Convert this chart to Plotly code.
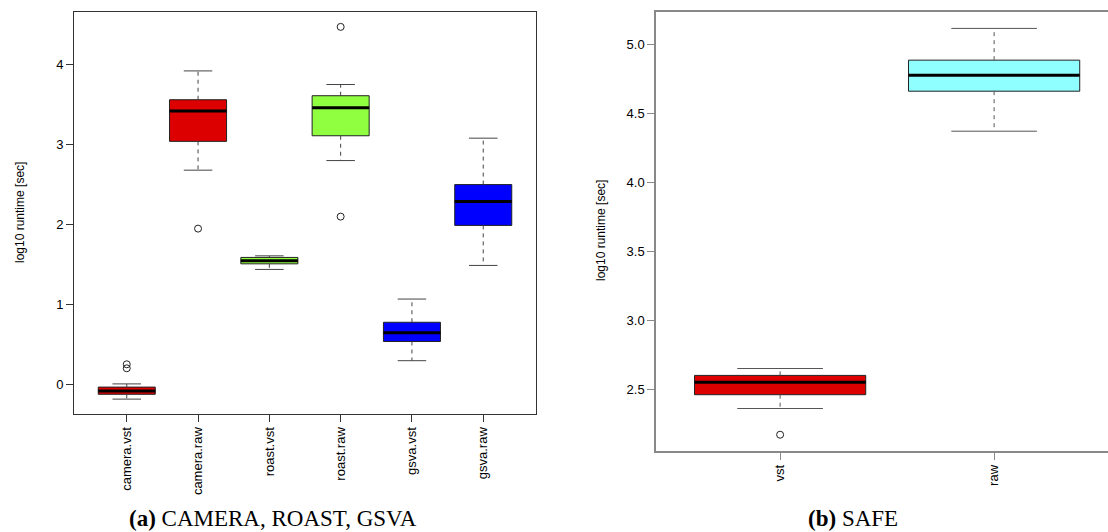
import plotly.graph_objects as go

# ---------------- data ----------------
left_cats = ["camera.vst", "camera.raw", "roast.vst", "roast.raw", "gsva.vst", "gsva.raw"]
left_q1 = [-0.12, 3.04, 1.51, 3.11, 0.54, 1.99]
left_med = [-0.08, 3.42, 1.55, 3.46, 0.65, 2.29]
left_q3 = [-0.03, 3.56, 1.59, 3.61, 0.78, 2.50]
left_lo = [-0.18, 2.68, 1.44, 2.80, 0.30, 1.49]
left_hi = [0.01, 3.92, 1.61, 3.75, 1.07, 3.08]
left_out = [[0.255, 0.205], [1.95], [], [2.10, 4.47], [], []]
left_colors = ["#DD0000", "#DD0000", "#8FFF3F", "#8FFF3F", "#0000FF", "#0000FF"]

right_cats = ["vst", "raw"]
right_q1 = [2.46, 4.66]
right_med = [2.55, 4.775]
right_q3 = [2.60, 4.885]
right_lo = [2.36, 4.37]
right_hi = [2.65, 5.115]
right_out = [[2.17], []]
right_colors = ["#DD0000", "#8FFFFF"]

W, H = 1108, 532
BOX_HALF = 0.4
CAP_HALF = 0.2

fig = go.Figure()


def add_panel(cats, q1, med, q3, lo, hi, outs, colors, xa, ya, whisk_col):
    # box bodies
    for i, c in enumerate(cats):
        p = i + 1
        fig.add_trace(go.Scatter(
            x=[p - BOX_HALF, p + BOX_HALF, p + BOX_HALF, p - BOX_HALF, p - BOX_HALF],
            y=[q1[i], q1[i], q3[i], q3[i], q1[i]],
            mode="lines", fill="toself", fillcolor=colors[i],
            line=dict(color="#222222", width=1),
            xaxis=xa, yaxis=ya, showlegend=False, hoverinfo="skip"))
    # dashed whiskers
    wx, wy = [], []
    for i in range(len(cats)):
        p = i + 1
        wx += [p, p, None, p, p, None]
        wy += [q3[i], hi[i], None, q1[i], lo[i], None]
    fig.add_trace(go.Scatter(x=wx, y=wy, mode="lines",
                             line=dict(color=whisk_col, width=1, dash="4px,4px"),
                             xaxis=xa, yaxis=ya, showlegend=False, hoverinfo="skip"))
    # caps
    cx, cy = [], []
    for i in range(len(cats)):
        p = i + 1
        cx += [p - CAP_HALF, p + CAP_HALF, None, p - CAP_HALF, p + CAP_HALF, None]
        cy += [hi[i], hi[i], None, lo[i], lo[i], None]
    fig.add_trace(go.Scatter(x=cx, y=cy, mode="lines",
                             line=dict(color=whisk_col, width=1),
                             xaxis=xa, yaxis=ya, showlegend=False, hoverinfo="skip"))
    # medians
    mx, my = [], []
    for i in range(len(cats)):
        p = i + 1
        mx += [p - BOX_HALF, p + BOX_HALF, None]
        my += [med[i], med[i], None]
    fig.add_trace(go.Scatter(x=mx, y=my, mode="lines",
                             line=dict(color="black", width=3),
                             xaxis=xa, yaxis=ya, showlegend=False, hoverinfo="skip"))
    # outliers
    ox, oy = [], []
    for i, vals in enumerate(outs):
        for v in vals:
            ox.append(i + 1)
            oy.append(v)
    fig.add_trace(go.Scatter(x=ox, y=oy, mode="markers",
                             marker=dict(symbol="circle-open", size=7,
                                         color="#222222", line=dict(width=1)),
                             xaxis=xa, yaxis=ya, showlegend=False, hoverinfo="skip"))


add_panel(left_cats, left_q1, left_med, left_q3, left_lo, left_hi, left_out,
          left_colors, "x", "y", "#444444")
add_panel(right_cats, right_q1, right_med, right_q3, right_lo, right_hi, right_out,
          right_colors, "x2", "y2", "#555555")

tickfont = dict(family="Liberation Sans, Arial, sans-serif", size=13, color="black")

# left panel: px 74..536 horizontally, 12..414 vertically
fig.update_layout(
    width=W, height=H,
    margin=dict(l=0, r=0, t=0, b=0),
    paper_bgcolor="white", plot_bgcolor="white",
    xaxis=dict(domain=[74 / W, 536 / W], range=[0.26, 6.74],
               tickmode="array", tickvals=list(range(1, len(left_cats) + 1)),
               ticktext=left_cats, tickangle=-90, tickfont=tickfont,
               showline=True, mirror=True, linecolor="#333333", linewidth=1,
               ticks="outside", ticklen=7, tickcolor="#333333",
               showgrid=False, zeroline=False, anchor="y"),
    yaxis=dict(domain=[1 - 414 / H, 1 - 12 / H], range=[-0.366, 4.656],
               tickmode="array", tickvals=[0, 1, 2, 3, 4], tickfont=tickfont,
               showline=True, mirror=True, linecolor="#333333", linewidth=1,
               ticks="outside", ticklen=7, tickcolor="#333333",
               showgrid=False, zeroline=False, anchor="x"),
    xaxis2=dict(domain=[656 / W, 1.0], range=[0.42, 0.42 + (W - 656) / 214.0],
                tickmode="array", tickvals=list(range(1, len(right_cats) + 1)),
                ticktext=right_cats, tickangle=-90, tickfont=tickfont,
                showline=True, mirror=True, linecolor="#888888", linewidth=1.5,
                ticks="outside", ticklen=7, tickcolor="#888888",
                showgrid=False, zeroline=False, anchor="y2"),
    yaxis2=dict(domain=[1 - 451 / H, 1 - 12 / H], range=[2.052, 5.234],
                tickmode="array", tickvals=[2.5, 3.0, 3.5, 4.0, 4.5, 5.0],
                tickformat=".1f", tickfont=tickfont,
                showline=True, mirror=False, linecolor="#888888", linewidth=1.5,
                ticks="outside", ticklen=7, tickcolor="#888888",
                showgrid=False, zeroline=False, anchor="x2"),
)

labfont = dict(family="Liberation Sans, Arial, sans-serif", size=12, color="black")
fig.add_annotation(text="log10 runtime [sec]", textangle=-90, font=labfont,
                   xref="paper", yref="paper", x=20 / W, y=1 - 213 / H,
                   showarrow=False, xanchor="center", yanchor="middle")
fig.add_annotation(text="log10 runtime [sec]", textangle=-90, font=labfont,
                   xref="paper", yref="paper", x=601 / W, y=1 - 231 / H,
                   showarrow=False, xanchor="center", yanchor="middle")

capfont = dict(family="Liberation Serif, Times New Roman, serif", size=23, color="black")
fig.add_annotation(text="<b>(a)</b> CAMERA, ROAST, GSVA", font=capfont,
                   xref="paper", yref="paper", x=273 / W, y=1 - 518 / H,
                   showarrow=False, xanchor="center", yanchor="middle")
fig.add_annotation(text="<b>(b)</b> SAFE", font=capfont,
                   xref="paper", yref="paper", x=853 / W, y=1 - 518 / H,
                   showarrow=False, xanchor="center", yanchor="middle")

fig.write_html("out.html")
